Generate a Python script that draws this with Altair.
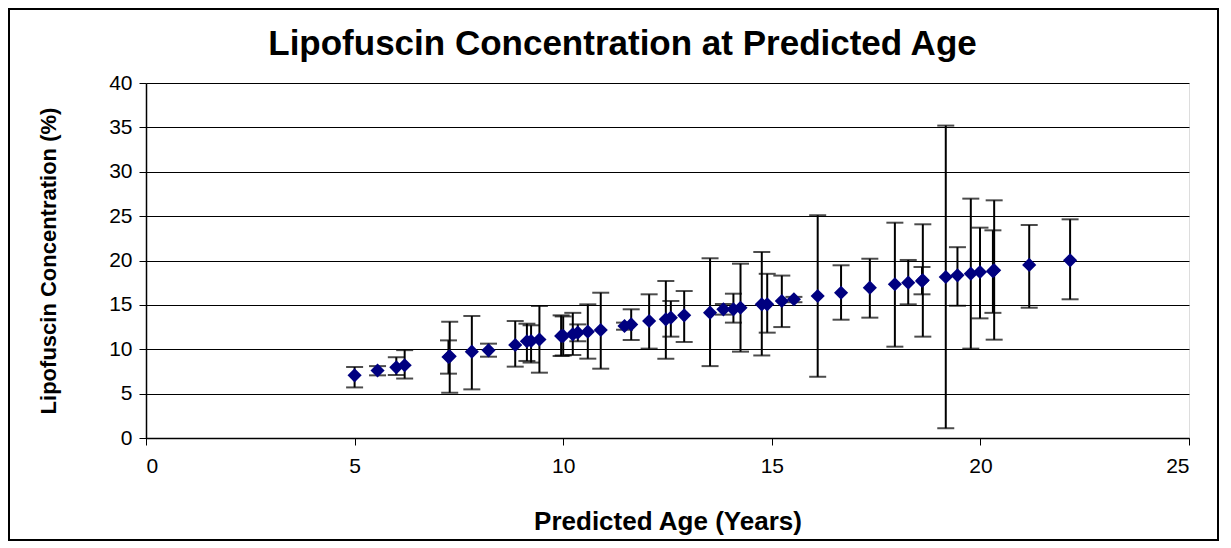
import altair as alt
import pandas as pd

# Predicted age (years), lipofuscin concentration (%), error bar low/high
age = [5.00, 5.55, 6.00, 6.20, 7.25, 7.28, 7.81, 8.21, 8.85, 9.13, 9.23, 9.43,
       9.95, 10.00, 10.23, 10.35, 10.59, 10.90, 11.47, 11.63, 12.06, 12.46,
       12.58, 12.90, 13.52, 13.84, 14.08, 14.25, 14.76, 14.89, 15.24, 15.53,
       16.10, 16.66, 17.35, 17.95, 18.27, 18.60, 18.62, 19.17, 19.45, 19.77,
       19.99, 20.30, 20.33, 21.17, 22.15]
conc = [7.06, 7.60, 7.96, 8.20, 9.13, 9.20, 9.73, 9.88, 10.48, 10.90, 10.93, 11.10,
        11.49, 11.50, 11.68, 11.87, 11.98, 12.17, 12.62, 12.80, 13.18, 13.37,
        13.56, 13.82, 14.12, 14.50, 14.50, 14.68, 15.06, 15.06, 15.44, 15.63,
        16.00, 16.37, 16.94, 17.32, 17.50, 17.70, 17.77, 18.14, 18.33, 18.52,
        18.70, 18.80, 18.90, 19.50, 20.02]
err_low = [5.7, 7.06, 7.1, 6.7, 7.25, 5.1, 5.48, 9.16, 8.04, 8.68, 8.5, 7.36,
           9.24, 9.3, 9.35, 10.9, 8.94, 7.81, 12.2, 11.04, 10.07, 8.94,
           11.42, 10.82, 8.1, 13.9, 13.0, 9.73, 9.3, 11.87, 12.5, 15.3,
           6.9, 13.33, 13.56, 10.29, 15.06, 16.19, 11.42, 1.1, 14.9, 10.07,
           13.48, 14.1, 11.08, 14.68, 15.63]
err_high = [8.0, 8.1, 9.1, 9.9, 11.0, 13.1, 13.75, 10.63, 13.18, 12.88, 12.7, 14.87,
            13.82, 13.7, 14.1, 12.8, 15.06, 16.37, 13.0, 14.5, 16.19, 17.7,
            15.44, 16.56, 20.25, 15.1, 16.26, 19.64, 20.96, 18.5, 18.3, 15.9,
            25.1, 19.46, 20.2, 24.26, 20.06, 19.27, 24.08, 35.2, 21.5, 26.97,
            23.7, 23.4, 26.78, 24.0, 24.64]

x_ticks = [0, 5, 10, 15, 20, 25]
y_ticks = [0, 5, 10, 15, 20, 25, 30, 35, 40]

df = pd.DataFrame({"age": age, "conc": conc, "low": err_low, "high": err_high})

FONT = "Liberation Sans"

xscale = alt.Scale(domain=[0, 25], nice=False, zero=True)
yscale = alt.Scale(domain=[0, 40], nice=False, zero=True)

x_axis = alt.Axis(
    values=x_ticks, title="Predicted Age (Years)", grid=False,
    domainColor="black", domainWidth=1.5, tickColor="black", tickSize=7, tickWidth=1,
    labelFont=FONT, labelFontSize=21, labelColor="black", labelPadding=10,
    titleFont=FONT, titleFontSize=26, titleFontWeight="bold", titleColor="black",
    titlePadding=32,
)
y_axis = alt.Axis(
    values=y_ticks, title="Lipofuscin Concentration (%)", grid=True,
    gridColor="black", gridWidth=1, gridOpacity=1,
    domainColor="black", domainWidth=1.5, tickColor="black", tickSize=7, tickWidth=1,
    labelFont=FONT, labelFontSize=21, labelColor="black", labelPadding=7,
    titleFont=FONT, titleFontSize=22, titleFontWeight="bold", titleColor="black",
    titlePadding=48,
)

base = alt.Chart(df)

bars = base.mark_rule(color="black", strokeWidth=2).encode(
    x=alt.X("age:Q", scale=xscale, axis=x_axis),
    y=alt.Y("low:Q", scale=yscale, axis=y_axis),
    y2="high:Q",
)
caps_low = base.mark_tick(color="black", orient="horizontal", size=17, thickness=2).encode(
    x=alt.X("age:Q", scale=xscale), y=alt.Y("low:Q", scale=yscale)
)
caps_high = base.mark_tick(color="black", orient="horizontal", size=17, thickness=2).encode(
    x=alt.X("age:Q", scale=xscale), y=alt.Y("high:Q", scale=yscale)
)
points = base.mark_point(shape="diamond", filled=True, color="#000080", size=200, opacity=1).encode(
    x=alt.X("age:Q", scale=xscale), y=alt.Y("conc:Q", scale=yscale)
)

frame = alt.Chart(alt.Data(values=[{"k": 1}])).mark_rect(
    fill=None, stroke="black", strokeWidth=2
).encode(
    x=alt.value(-137), x2=alt.value(1072), y=alt.value(-74), y2=alt.value(457)
)

chart = alt.layer(frame, bars, caps_low, caps_high, points).properties(
    width=1043, height=355,
    title=alt.Title("Lipofuscin Concentration at Predicted Age", font=FONT, fontSize=35,
                    fontWeight="bold", color="black", anchor="middle", dx=-45, offset=-54),
    padding=0,
).configure_view(stroke="#808080", strokeWidth=2).configure(background="white")

chart.save("out.html", embed_options={"renderer": "svg", "actions": False})
